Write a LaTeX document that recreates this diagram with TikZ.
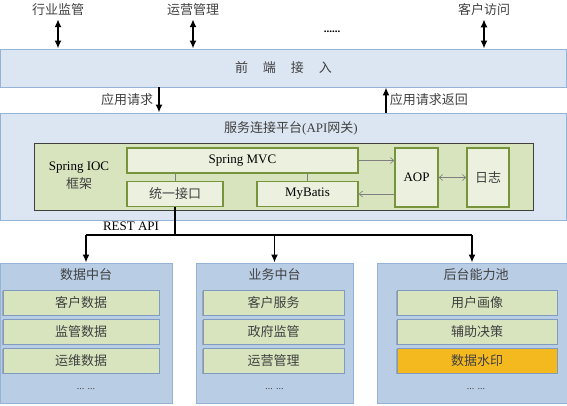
\documentclass[tikz,border=0pt]{standalone}
\usepackage{fontspec}
\setmainfont{Liberation Serif}
\newfontfamily\cjk{Noto Sans CJK SC}
\usepackage{tikz}
\usetikzlibrary{arrows.meta,positioning,calc,shadows}
\definecolor{panelfill}{HTML}{DCE6F2}
\definecolor{paneldraw}{HTML}{95B3D7}
\definecolor{poolfill}{HTML}{B9CDE5}
\definecolor{itemfill}{HTML}{D7E4BD}
\definecolor{itemdraw}{HTML}{7F9CC0}
\definecolor{modfill}{HTML}{EBF1DE}
\definecolor{moddraw}{HTML}{77933C}
\definecolor{markfill}{HTML}{F5B920}
\definecolor{txtgray}{HTML}{404040}
\definecolor{linkgray}{HTML}{7F7F7F}
\newcommand{\zh}[1]{{\cjk #1}}
\tikzset{
  panel/.style    = {draw=paneldraw,fill=panelfill,line width=0.9pt,inner sep=0pt,
                     text=txtgray},
  pool/.style     = {draw=paneldraw,fill=poolfill,line width=0.9pt,inner sep=0pt,
                     minimum height=140pt},
  item/.style     = {draw=itemdraw,fill=itemfill,line width=0.8pt,inner sep=0pt,
                     minimum height=25pt,text=txtgray,
                     drop shadow={shadow xshift=-0.8pt,shadow yshift=-0.8pt,
                                  fill=black!45,opacity=0.6}},
  iocframe/.style = {draw=txtgray,fill=itemfill,line width=1pt,inner sep=0pt},
  module/.style   = {draw=moddraw,fill=modfill,line width=1.5pt,inner sep=0pt,
                     minimum height=25pt},
  lbl/.style      = {inner sep=1pt,text=txtgray},
  sig/.style      = {-{Latex[length=8pt,width=7pt]},line width=1.8pt},
  both/.style     = {{Latex[length=8pt,width=7pt]}-{Latex[length=8pt,width=7pt]},
                     line width=1.8pt},
  link/.style     = {draw=linkgray,line width=0.6pt},
  linkarr/.style  = {link,-{Straight Barb[length=3.5pt,width=6pt]}},
  linkboth/.style = {link,{Straight Barb[length=3.5pt,width=6pt]}-{Straight Barb[length=3.5pt,width=6pt]}},
}

\begin{document}
\begin{tikzpicture}[x=1pt,y=-1pt,font=\fontsize{13}{16}\selectfont]
  \useasboundingbox (0,0) rectangle (567,405);

  % front end and its users
  \node[panel,minimum width=566pt,minimum height=38pt] (front) at (283.5,68)
        {\zh{前\hspace{15pt}端\hspace{15pt}接\hspace{15pt}入}};
  \node[lbl] (sup)  at (58,10)  {\zh{行业监管}};
  \node[lbl] (ops)  at (193,10) {\zh{运营管理}};
  \node[lbl] (cust) at (484,10) {\zh{客户访问}};
  \node[lbl,text=black,font=\fontsize{11}{11}\selectfont\bfseries] (more) at (332,32) {......};
  \draw[both,shorten <=2pt] (sup.south)  -- (sup.south |- front.north);
  \draw[both,shorten <=2pt] (ops.south)  -- (ops.south |- front.north);
  \draw[both,shorten <=2pt] (cust.south) -- (cust.south |- front.north);

  % gateway
  \node[panel,minimum width=566pt,minimum height=107pt] (gw) at (283.5,166.5) {};
  \node[lbl] (gwtitle) at (291,128) {\zh{服务连接平台}(API\zh{网关})};
  \coordinate (req) at (159,0);
  \coordinate (ret) at (386,0);
  \draw[sig] (req |- front.south) -- (req |- gw.north)
        node[midway,left=4pt,lbl] {\zh{应用请求}};
  \draw[sig] (ret |- gw.north) -- (ret |- front.south)
        node[midway,right=2pt,lbl] {\zh{应用请求返回}};

  \node[iocframe,minimum width=499pt,minimum height=67pt] (ioc) at (283.5,176.5) {};
  \node[align=center,inner sep=0pt,font=\fontsize{13}{18}\selectfont] (ioclbl)
        at (79,176) {Spring IOC\\\textcolor{txtgray}{\zh{框架}}};
  \node[module,minimum width=231pt] (mvc)  at (242.5,160.5) {Spring MVC};
  \node[module,minimum width=96pt]  (unif) at (175,194)     {\textcolor{txtgray}{\zh{统一接口}}};
  \node[module,minimum width=101pt] (mb)   at (307.5,194)   {MyBatis};
  \node[module,minimum width=43pt,minimum height=59pt] (aop) at (416.5,177.5) {AOP};
  \node[module,minimum width=42pt,minimum height=59pt] (log) at (488,177.5)
        {\textcolor{txtgray}{\zh{日志}}};
  \draw[link] (unif.north) -- (unif.north |- mvc.south);
  \draw[link] (mb.north) -- (mb.north |- mvc.south);
  \draw[linkarr] (mvc.east) -- (mvc.east -| aop.west);
  \draw[linkarr] (mb.east -| aop.west) -- (mb.east);
  \draw[linkboth] (aop.east) -- (log.west);

  % back-end pools
  \node[pool,minimum width=172pt] (data) at (86,333)    {};
  \node[pool,minimum width=157pt] (biz)  at (274.5,333) {};
  \node[pool,minimum width=190pt] (cap)  at (472,333)   {};

  \coordinate (trunk) at (0,235);
  \draw[line width=1.8pt] (unif.south) -- (unif.south |- trunk);
  \draw[line width=1.8pt] (data.north |- trunk) -- (cap.north |- trunk);
  \node[lbl,text=black] (rest) at (131,226) {REST API};
  \draw[sig] (data.north |- trunk) -- (data.north);
  \draw[sig] (biz.north |- trunk)  -- (biz.north);
  \draw[sig] (cap.north |- trunk)  -- (cap.north);

  \node[lbl] (datat) at (86,275)  {\zh{数据中台}};
  \node[item,minimum width=156pt] (d1) at (81,303)   {\zh{客户数据}};
  \node[item,minimum width=156pt] (d2) at (81,331.5) {\zh{监管数据}};
  \node[item,minimum width=156pt] (d3) at (81,360.5) {\zh{运维数据}};
  \node[lbl,font=\fontsize{10}{10}\selectfont] (dmore) at (86,389) {... ...};

  \node[lbl] (bizt) at (274.5,275) {\zh{业务中台}};
  \node[item,minimum width=141pt] (b1) at (273.5,303)   {\zh{客户服务}};
  \node[item,minimum width=141pt] (b2) at (273.5,331.5) {\zh{政府监管}};
  \node[item,minimum width=141pt] (b3) at (273.5,360.5) {\zh{运营管理}};
  \node[lbl,font=\fontsize{10}{10}\selectfont] (bmore) at (274.5,389) {... ...};

  \node[lbl] (capt) at (476,275) {\zh{后台能力池}};
  \node[item,minimum width=160pt] (c1) at (477,303)   {\zh{用户画像}};
  \node[item,minimum width=160pt] (c2) at (477,331.5) {\zh{辅助决策}};
  \node[item,minimum width=160pt,fill=markfill] (c3) at (477,360.5) {\zh{数据水印}};
  \node[lbl,font=\fontsize{10}{10}\selectfont] (cmore) at (476,389) {... ...};
\end{tikzpicture}
\end{document}
